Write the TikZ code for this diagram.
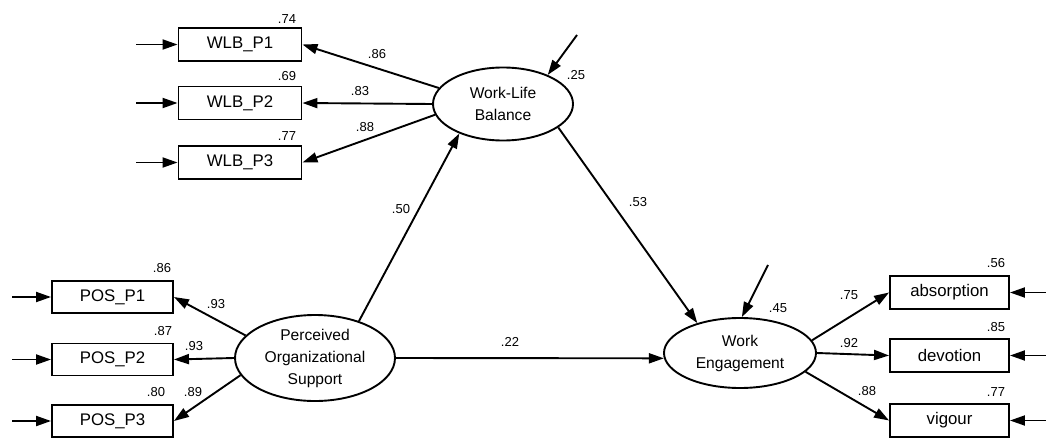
\documentclass[tikz,border=0pt]{standalone}
\usepackage{fontspec}
\setmainfont{Liberation Sans}
\usetikzlibrary{arrows.meta,shapes.geometric}
\begin{document}
\begin{tikzpicture}[x=1pt,y=-1pt,
  obs/.style={draw,line width=1.9pt,minimum width=#1,minimum height=33pt,inner sep=0pt,font=\fontsize{16.8}{20}\selectfont},
  obs/.default=123pt,
  lat/.style={draw,ellipse,line width=1.9pt,inner sep=0pt,align=center,font=\fontsize{15.6}{22}\selectfont},
  conn/.style={line width=1.9pt,-{Triangle[length=15pt,width=10pt]}},
  lbl/.style={font=\fontsize{13}{15}\selectfont,inner sep=0pt}]
\useasboundingbox (0,0) rectangle (1046,439);
% observed variables
\node[obs] (w1) at (240,44.5) {WLB\_P1};
\node[obs] (w2) at (240,103) {WLB\_P2};
\node[obs] (w3) at (240,162.5) {WLB\_P3};
\node[obs=121pt,minimum height=32pt] (p1) at (112.5,297) {POS\_P1};
\node[obs=121pt,minimum height=32pt] (p2) at (112.5,359.5) {POS\_P2};
\node[obs=121pt,minimum height=32pt] (p3) at (112.5,421) {POS\_P3};
\node[obs=119pt] (e1) at (949.5,292.5) {absorption};
\node[obs=119pt] (e2) at (949.5,355.5) {devotion};
\node[obs=119pt] (e3) at (949.5,420.5) {vigour};
% latent variables
\node[lat,minimum width=140pt,minimum height=73pt] (wlb) at (503,104) {Work-Life\\Balance};
\node[lat,minimum width=160pt,minimum height=86pt] (pos) at (315,358) {Perceived\\Organizational\\Support};
\node[lat,minimum width=152pt,minimum height=70pt] (we) at (740,353) {Work\\Engagement};
% error terms
\coordinate (ew1) at (136,44.5);
\coordinate (ew2) at (136,103);
\coordinate (ew3) at (136,162.5);
\coordinate (ep1) at (12,297);
\coordinate (ep2) at (12,359.5);
\coordinate (ep3) at (12,421);
\coordinate (ee1) at (1046,292.5);
\coordinate (ee2) at (1046,355.5);
\coordinate (ee3) at (1046,420.5);
\coordinate (ewlb) at (577,35);
\coordinate (ewe) at (768,265);
\foreach \a/\b in {ew1/w1,ew2/w2,ew3/w3,ep1/p1,ep2/p2,ep3/p3}
  \draw[conn] (\a) -- (\b.west);
\foreach \a/\b in {ee1/e1,ee2/e2,ee3/e3}
  \draw[conn] (\a) -- (\b.east);
\draw[conn] (ewlb) -- (wlb.33);
\draw[conn] (ewe) -- (we.87);
% loadings
\draw[conn] (wlb.166) -- (w1.east);
\draw[conn] (wlb.180) -- (w2.east);
\draw[conn] (wlb.189) -- (w3.east);
\draw[conn] (pos.162) -- (p1.east);
\draw[conn] (pos.180) -- (p2.east);
\draw[conn] (pos.193) -- (p3.east);
\draw[conn] (we.10) -- (e1.west);
\draw[conn] (we.0) -- (e2.west);
\draw[conn] (we.-16) -- (e3.west);
% structural paths
\draw[conn] (pos.40) -- (wlb.214);
\draw[conn] (wlb.-23) -- (we.145);
\draw[conn] (pos.east) -- (we.184);
% labels
\node[lbl] (l1) at (287,19) {.74};
\node[lbl] (l2) at (287,76) {.69};
\node[lbl] (l3) at (287,136) {.77};
\node[lbl] (l4) at (377,54) {.86};
\node[lbl] (l5) at (360,91) {.83};
\node[lbl] (l6) at (365,127) {.88};
\node[lbl] (l7) at (576,75) {.25};
\node[lbl] (l8) at (401,209) {.50};
\node[lbl] (l9) at (638,202) {.53};
\node[lbl] (l10) at (510,342) {.22};
\node[lbl] (l11) at (162,268) {.86};
\node[lbl] (l12) at (163,331) {.87};
\node[lbl] (l13) at (156,392) {.80};
\node[lbl] (l14) at (216,304) {.93};
\node[lbl] (l15) at (194,346) {.93};
\node[lbl] (l16) at (193,392) {.89};
\node[lbl] (l17) at (778,308) {.45};
\node[lbl] (l18) at (996,263) {.56};
\node[lbl] (l19) at (996,327) {.85};
\node[lbl] (l20) at (996,392) {.77};
\node[lbl] (l21) at (849,295) {.75};
\node[lbl] (l22) at (849,343) {.92};
\node[lbl] (l23) at (867,391) {.88};
\end{tikzpicture}
\end{document}
